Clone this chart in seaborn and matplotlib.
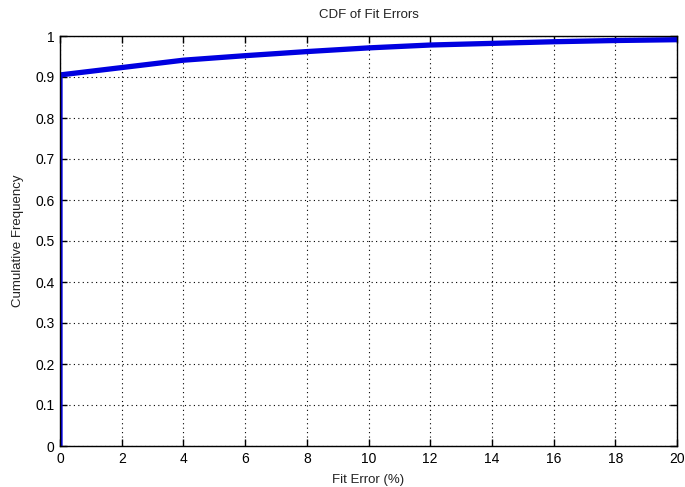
import matplotlib
matplotlib.use("Agg")
import matplotlib.pyplot as plt
import seaborn as sns
import pandas as pd
import numpy as np

# Data
fit_error = [0, 0, 2, 4, 6, 8, 10, 12, 14, 16, 18, 20]
cum_freq = [0.0, 0.905, 0.923, 0.941, 0.952, 0.962, 0.971, 0.978, 0.982, 0.986, 0.989, 0.991]
x_ticks = [0, 2, 4, 6, 8, 10, 12, 14, 16, 18, 20]
y_ticks = [0, 0.1, 0.2, 0.3, 0.4, 0.5, 0.6, 0.7, 0.8, 0.9, 1]
y_tick_labels = ["0", "0.1", "0.2", "0.3", "0.4", "0.5", "0.6", "0.7", "0.8", "0.9", "1"]

sns.set_theme(style="white")
plt.rcParams['font.family'] = ['Liberation Sans', 'DejaVu Sans']

df = pd.DataFrame({"x": fit_error, "y": cum_freq})

fig = plt.figure(figsize=(6.85, 4.87), dpi=100)
ax = fig.add_axes([60/685, 41/487, 617/685, 410/487])
sns.lineplot(data=df, x="x", y="y", ax=ax, color="#0000e0", linewidth=3.8,
             sort=False, estimator=None)

ax.set_xlim(0, 20)
ax.set_ylim(0, 1)
ax.set_xticks(x_ticks)
ax.set_xticklabels([str(t) for t in x_ticks])
ax.set_yticks(y_ticks)
ax.set_yticklabels(y_tick_labels)
ax.grid(True, color="black", linestyle=(0, (1, 3)), linewidth=0.8)
ax.tick_params(direction="in", length=5, width=1, colors="black", labelsize=10,
               top=True, right=True, bottom=True, left=True, pad=4)
for s in ax.spines.values():
    s.set_color("black")
    s.set_linewidth(1)
ax.set_title("CDF of Fit Errors", fontsize=9.5, pad=13, color="#222222")
ax.set_xlabel("Fit Error (%)", fontsize=9.5, labelpad=6, color="#222222")
ax.set_ylabel("Cumulative Frequency", fontsize=9.5, labelpad=8, color="#222222")

fig.savefig("out.png", dpi=100)
